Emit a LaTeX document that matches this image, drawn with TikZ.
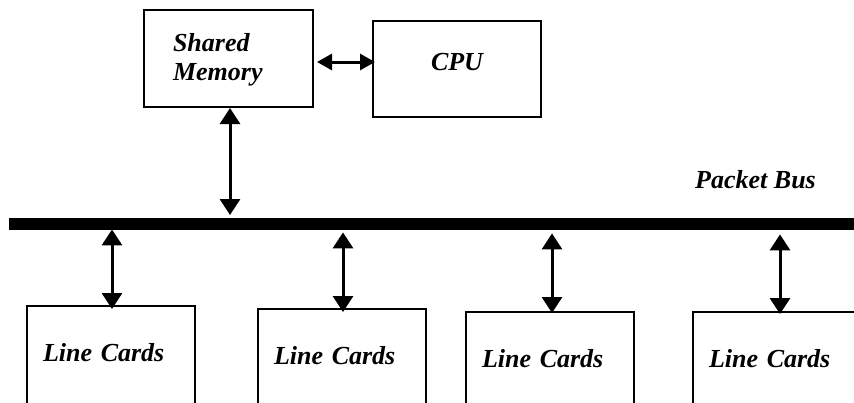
\documentclass[tikz,border=0pt]{standalone}
\usepackage{fontspec}
\setmainfont{Liberation Serif}
\usetikzlibrary{arrows.meta,calc}

\tikzset{
  lbl/.style={font=\fontsize{26}{29}\selectfont\bfseries\itshape},
  box/.style={draw, line width=2pt, inner ysep=0pt, lbl},
  card/.style={box, anchor=north west, minimum width=168pt, text width=136pt,
               inner xsep=15pt, align=left, text height=55pt, text depth=150pt},
  link/.style={line width=3pt, {Triangle[length=16pt,width=20pt]}-{Triangle[length=16pt,width=20pt]}},
  hlink/.style={line width=3pt, {Triangle[length=15pt,width=16pt]}-{Triangle[length=15pt,width=16pt]}},
}

\begin{document}
\begin{tikzpicture}[x=1pt, y=-1pt]
  \useasboundingbox (0,0) rectangle (854,402);
  \clip (0,0) rectangle (854,402);

  % processor side
  \node[box, anchor=north west, minimum width=169pt, text width=111pt, inner xsep=29pt,
        align=left, text height=41pt, text depth=56pt] (mem) at (143,9) {Shared\\Memory};
  \node[box, anchor=north west, minimum width=168pt, inner xsep=0pt,
        text height=49pt, text depth=47pt] (cpu) at (372,20) {CPU};

  % the bus
  \node[fill=black, inner sep=0pt, anchor=north west, minimum width=860pt,
        minimum height=12pt] (bus) at (9,218) {};
  \node[lbl, anchor=base west, inner sep=0pt] (buslbl) at (695,188) {Packet Bus};

  % line cards
  \node[card] (lc1) at (26,305) {Line Cards};
  \node[card] (lc2) at (257,308) {Line Cards};
  \node[card] (lc3) at (465,311) {Line Cards};
  \node[card] (lc4) at (692,311) {Line Cards};

  % connections
  \draw[hlink] ($(mem.east |- 0,62)+(3,0)$) -- ($(cpu.west |- 0,62)+(3,0)$);
  \draw[link] ($(mem.south -| 230,0)$) -- ($(bus.north -| 230,0)+(0,-3)$);
  \draw[link] ($(bus.south -| 112,0)+(0,-1)$) -- ($(lc1.north -| 112,0)+(0,4)$);
  \draw[link] ($(bus.south -| 343,0)+(0,2)$) -- ($(lc2.north -| 343,0)+(0,4)$);
  \draw[link] ($(bus.south -| 552,0)+(0,3)$) -- ($(lc3.north -| 552,0)+(0,2)$);
  \draw[link] ($(bus.south -| 780,0)+(0,4)$) -- ($(lc4.north -| 780,0)+(0,3)$);
\end{tikzpicture}
\end{document}
